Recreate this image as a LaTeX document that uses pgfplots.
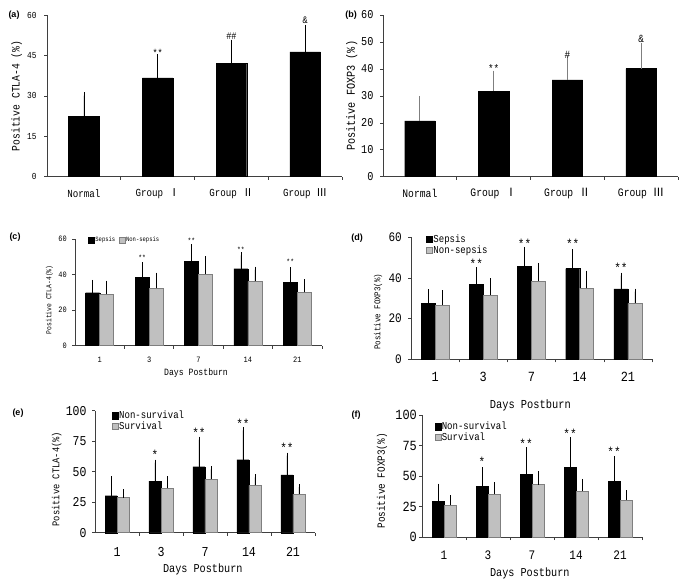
\documentclass[border=0pt]{standalone}
\usepackage{pgfplots}
\pgfplotsset{compat=1.18}
\usepackage{fontspec}
\setmainfont[FakeStretch=0.85]{Liberation Mono}
\newfontfamily\cjk{Noto Sans CJK SC}
\newfontfamily\tagfont{Liberation Sans}
\newcommand\fs[1]{\fontsize{#1}{#1}\selectfont}

\definecolor{bargry}{HTML}{C0C0C0}
\definecolor{edgegry}{HTML}{7F7F7F}
\definecolor{axgry}{HTML}{3F3F3F}

\pgfplotsset{
  ybar legend/.style={legend image code/.code={\draw[##1] (0pt,-0.3em) rectangle (0.62em,0.32em);}},
  panel/.style={
    scale only axis, axis lines=left, axis line style={-, axgry, line width=0.6pt},
    ymin=0, tick align=outside, major tick length=3pt,
    tick style={axgry, line width=0.6pt},
    /pgf/number format/assume math mode=true,
    xticklabels={},
    extra x tick style={major tick length=0pt},
    ylabel style={anchor=center},
    xlabel style={anchor=center},
    clip=false, anchor=south west,
    legend cell align=left,
  },
  blk/.style={fill=black, draw=black, line width=0.4pt,
    error bars/y dir=plus, error bars/y explicit,
    error bars/error bar style={black, line width=0.6pt},
    error bars/error mark options={black, mark size=3pt, line width=0.6pt}},
  gry/.style={fill=bargry, draw=edgegry, line width=0.6pt,
    error bars/y dir=plus, error bars/y explicit,
    error bars/error bar style={black, line width=0.6pt},
    error bars/error mark options={black, mark size=3pt, line width=0.6pt}},
}

\begin{document}
\begin{tikzpicture}
\useasboundingbox (0,0) rectangle (685pt,587pt);

% (a)
\begin{axis}[panel, ybar, bar width=30.7pt,
  at={(47pt,410.3pt)}, width=295pt, height=161.7pt,
  xmin=-0.5, xmax=3.5, ymax=60, ytick={0,15,30,45,60},
  xtick={0.5,1.5,2.5,3.5}, extra x ticks={0,1,2,3},
  extra x tick labels={Normal,Group {\cjk Ⅰ},Group {\cjk Ⅱ},Group {\cjk Ⅲ}},
  xticklabel style={font=\fs{10.8}, anchor=center, yshift=-16.6pt},
  yticklabel style={font=\fs{9.2}, inner sep=0pt, xshift=-7.3pt},
  ylabel={Positive CTLA-4 (\%)},
  ylabel style={at={(axis description cs:-0.103,0.5)}, font=\fs{11.4}},
]
\addplot[blk, error bars/error mark options={black, mark size=3.5pt, line width=0.6pt}]
  coordinates {(0,22.5) +- (0,7.6) (1,36.7) +- (0,7.5) (2,42.1) +- (0,7.5) (3,46.3) +- (0,8.7)};
\node[font=\fs{10}] at (axis cs:1,45.8) {**};
\node[font=\fs{10}] at (axis cs:2,52.1) {\#\#};
\node[font=\fs{10}] at (axis cs:3,58.1) {\&};
\end{axis}

% (b)
\begin{axis}[panel, ybar, bar width=30.3pt,
  at={(383pt,410.3pt)}, width=295pt, height=161.7pt,
  xmin=-0.5, xmax=3.5, ymax=60, ytick={0,10,...,60},
  xtick={0.5,1.5,2.5,3.5}, extra x ticks={0,1,2,3},
  extra x tick labels={Normal,Group {\cjk Ⅰ},Group {\cjk Ⅱ},Group {\cjk Ⅲ}},
  xticklabel style={font=\fs{11.4}, anchor=center, yshift=-16.6pt},
  yticklabel style={font=\fs{12}, inner sep=0pt, xshift=-6.4pt},
  ylabel={Positive FOXP3 (\%)},
  ylabel style={at={(axis description cs:-0.106,0.5)}, font=\fs{12}},
]
\addplot[blk, error bars/error bar style={edgegry, line width=0.8pt},
  error bars/error mark options={edgegry, mark size=3.5pt, line width=0.8pt}]
  coordinates {(0,20.7) +- (0,8.0) (1,31.8) +- (0,6.3) (2,35.9) +- (0,7.7) (3,40.1) +- (0,8.3)};
\node[font=\fs{11}] at (axis cs:1,40.0) {**};
\node[font=\fs{11}] at (axis cs:2,45.2) {\#};
\node[font=\fs{11}] at (axis cs:3,51.2) {\&};
\end{axis}

% (c)
\begin{axis}[panel, ybar=0pt, bar width=14pt,
  at={(75pt,241.3pt)}, width=247pt, height=106.7pt,
  xmin=-0.5, xmax=4.5, ymax=60, ytick={0,20,40,60},
  xtick={0.5,1.5,2.5,3.5,4.5}, extra x ticks={0,1,2,3,4},
  extra x tick labels={1,3,7,14,21},
  xticklabel style={font=\fs{8.2}, anchor=center, yshift=-13.6pt},
  yticklabel style={font=\fs{8.2}, inner sep=0pt, xshift=-5pt},
  ylabel={Positive CTLA-4(\%)},
  ylabel style={at={(axis description cs:-0.104,0.43)}, font=\fs{7.5}},
  xlabel={Days Postburn},
  xlabel style={at={(axis description cs:0.49,-0.26)}, font=\fs{9.6}},
  legend columns=2,
  legend style={at={(axis description cs:0.053,0.99)}, anchor=west, draw=none, fill=none,
    inner sep=0pt, font=\fs{6.5}, nodes={inner sep=0.5pt},
    /tikz/every even column/.append style={column sep=3pt}},
]
\addplot[blk] coordinates {(0,29.8) +- (0,5.5) (1,38.3) +- (0,6.9) (2,47.3) +- (0,8.0) (3,43.3) +- (0,7.5) (4,35.6) +- (0,6.8)};
\addplot[gry] coordinates {(0,28.9) +- (0,6.0) (1,32.3) +- (0,7.1) (2,40.3) +- (0,8.3) (3,36.2) +- (0,6.6) (4,30.0) +- (0,5.6)};
\addlegendentry{Sepsis}
\addlegendentry{Non-sepsis}
\node[font=\fs{7.5}, xshift=-7pt] at (axis cs:1,49.3) {**};
\node[font=\fs{7.5}, xshift=-7pt] at (axis cs:2,58.9) {**};
\node[font=\fs{7.5}, xshift=-7pt] at (axis cs:3,53.8) {**};
\node[font=\fs{7.5}, xshift=-7pt] at (axis cs:4,47.3) {**};
\end{axis}

% (d)
\begin{axis}[panel, ybar=0pt, bar width=14pt,
  at={(411pt,227.7pt)}, width=241pt, height=122pt,
  xmin=-0.5, xmax=4.5, ymax=60, ytick={0,20,40,60},
  xtick={0.5,1.5,2.5,3.5,4.5}, extra x ticks={0,1,2,3,4},
  extra x tick labels={1,3,7,14,21},
  xticklabel style={font=\fs{14}, anchor=center, yshift=-17.4pt},
  yticklabel style={font=\fs{13}, inner sep=0pt, xshift=-6pt},
  ylabel={Positive FOXP3(\%)},
  ylabel style={at={(axis description cs:-0.137,0.39)}, font=\fs{8.8}},
  xlabel={Days Postburn},
  xlabel style={at={(axis description cs:0.495,-0.375)}, font=\fs{12.2}},
  legend style={at={(axis description cs:0.062,0.94)}, anchor=west, draw=none, fill=none,
    inner sep=0pt, font=\fs{10.6}, nodes={inner sep=0.5pt}, row sep=1pt},
]
\addplot[blk] coordinates {(0,27.5) +- (0,5.4) (1,36.7) +- (0,7.1) (2,45.6) +- (0,8.2) (3,44.6) +- (0,8.0) (4,34.6) +- (0,6.5)};
\addplot[gry] coordinates {(0,26.7) +- (0,5.8) (1,31.6) +- (0,6.8) (2,38.5) +- (0,7.4) (3,34.9) +- (0,7.2) (4,27.5) +- (0,5.8)};
\addlegendentry{Sepsis}
\addlegendentry{Non-sepsis}
\node[font=\fs{13}, xshift=-7pt] at (axis cs:1,47.2) {**};
\node[font=\fs{13}, xshift=-7pt] at (axis cs:2,56.6) {**};
\node[font=\fs{13}, xshift=-7pt] at (axis cs:3,56.6) {**};
\node[font=\fs{13}, xshift=-7pt] at (axis cs:4,45.1) {**};
\end{axis}

% (e)
\begin{axis}[panel, ybar=0pt, bar width=12pt,
  at={(95pt,54.3pt)}, width=220pt, height=122pt,
  xmin=-0.5, xmax=4.5, ymax=100, ytick={0,25,50,75,100},
  xtick={0.5,1.5,2.5,3.5,4.5}, extra x ticks={0,1,2,3,4},
  extra x tick labels={1,3,7,14,21},
  xticklabel style={font=\fs{13.7}, anchor=center, yshift=-19pt},
  yticklabel style={font=\fs{13.5}, inner sep=0pt, xshift=-5.3pt},
  ylabel={Positive CTLA-4(\%)},
  ylabel style={at={(axis description cs:-0.174,0.44)}, font=\fs{10.3}},
  xlabel={Days Postburn},
  xlabel style={at={(axis description cs:0.49,-0.30)}, font=\fs{12}},
  legend style={at={(axis description cs:0.076,0.916)}, anchor=west, draw=none, fill=none,
    inner sep=0pt, font=\fs{10.6}, nodes={inner sep=0.5pt}, row sep=0pt},
]
\addplot[blk] coordinates {(0,30.3) +- (0,13.4) (1,42.3) +- (0,15.1) (2,54.1) +- (0,22.1) (3,59.8) +- (0,24.1) (4,47.5) +- (0,15.6)};
\addplot[gry] coordinates {(0,28.7) +- (0,4.4) (1,36.3) +- (0,7.4) (2,43.7) +- (0,8.2) (3,38.8) +- (0,6.6) (4,31.7) +- (0,5.7)};
\addlegendentry{Non-survival}
\addlegendentry{Survival}
\node[font=\fs{13}, xshift=-6pt] at (axis cs:1,64.2) {*};
\node[font=\fs{13}, xshift=-6pt] at (axis cs:2,82.2) {**};
\node[font=\fs{13}, xshift=-6pt] at (axis cs:3,89.1) {**};
\node[font=\fs{13}, xshift=-6pt] at (axis cs:4,69.7) {**};
\end{axis}

% (f)
\begin{axis}[panel, ybar=0pt, bar width=12pt,
  at={(422pt,50pt)}, width=220pt, height=122pt,
  xmin=-0.5, xmax=4.5, ymax=100, ytick={0,25,50,75,100},
  xtick={0.5,1.5,2.5,3.5,4.5}, extra x ticks={0,1,2,3,4},
  extra x tick labels={1,3,7,14,21},
  xticklabel style={font=\fs{13}, anchor=center, yshift=-18pt},
  yticklabel style={font=\fs{14}, inner sep=0pt, xshift=-2pt},
  ylabel={Positive FOXP3(\%)},
  ylabel style={at={(axis description cs:-0.182,0.46)}, font=\fs{11}},
  xlabel={Days Postburn},
  xlabel style={at={(axis description cs:0.49,-0.30)}, font=\fs{12}},
  legend style={at={(axis description cs:0.056,0.861)}, anchor=west, draw=none, fill=none,
    inner sep=0pt, font=\fs{10.6}, nodes={inner sep=0.5pt}, row sep=0pt},
]
\addplot[blk] coordinates {(0,29.0) +- (0,12.3) (1,41.3) +- (0,13.6) (2,51.4) +- (0,19.6) (3,57.1) +- (0,22.1) (4,45.9) +- (0,17.8)};
\addplot[gry] coordinates {(0,26.0) +- (0,5.7) (1,35.2) +- (0,7.1) (2,42.9) +- (0,8.5) (3,37.7) +- (0,7.4) (4,30.3) +- (0,5.5)};
\addlegendentry{Non-survival}
\addlegendentry{Survival}
\node[font=\fs{13}, xshift=-6pt] at (axis cs:1,61.7) {*};
\node[font=\fs{13}, xshift=-6pt] at (axis cs:2,76.8) {**};
\node[font=\fs{13}, xshift=-6pt] at (axis cs:3,84.4) {**};
\node[font=\fs{13}, xshift=-6pt] at (axis cs:4,69.9) {**};
\end{axis}

% panel tags
\begin{scope}[every node/.style={font=\tagfont\bfseries\fs{9}}]
\node at (14pt,572pt) {(a)};
\node at (351pt,572pt) {(b)};
\node at (15pt,349.7pt) {(c)};
\node at (357pt,348.7pt) {(d)};
\node at (18pt,173.7pt) {(e)};
\node at (356pt,172pt) {(f)};
\end{scope}
\end{tikzpicture}
\end{document}
